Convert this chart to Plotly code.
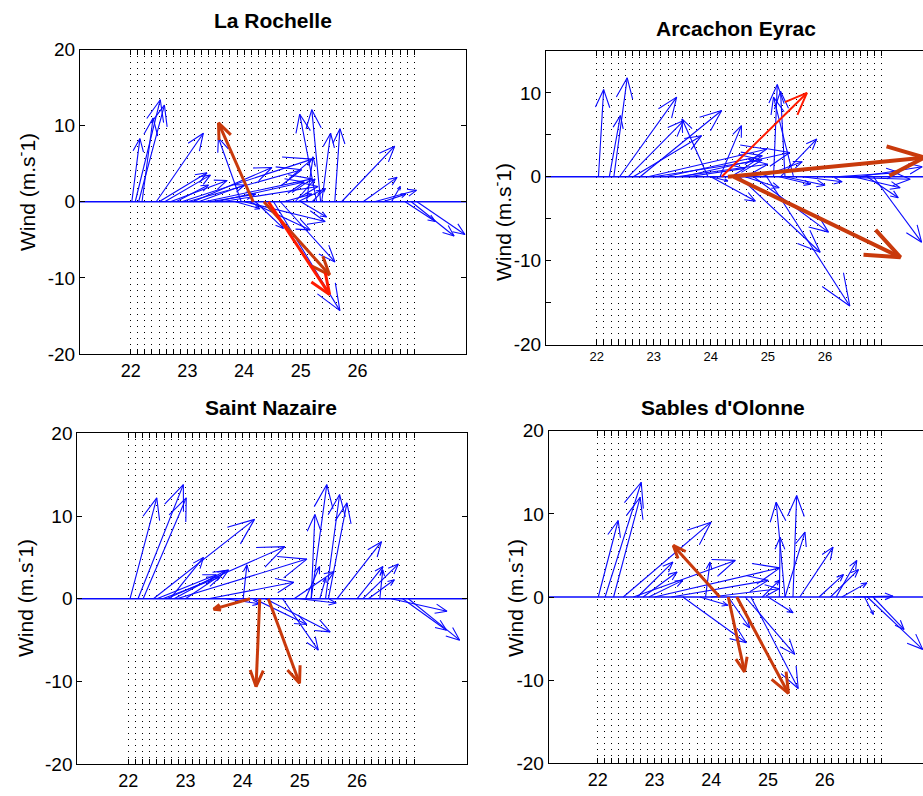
import math
import plotly.graph_objects as go

W, H = 923, 796
K = 0.13  # days per (m/s) used to draw the east component of each stick

# ---------------- data ----------------
# La Rochelle
lr_t = [22.02, 22.08, 22.14, 22.20, 22.45, 22.50, 22.60, 22.70, 22.80, 22.90, 23.10, 23.20, 23.30, 23.60,
        23.95, 23.40, 23.85, 24.00, 24.10, 24.20, 24.64, 24.52, 25.28, 25.35, 25.37, 25.60, 25.72, 25.10,
        24.95, 25.20, 24.70, 26.10, 26.30, 26.45, 26.84, 26.95, 27.05, 25.00, 26.60, 24.90, 23.00, 23.50]
lr_u = [1.1, 3.4, 3.5, 1.5, 6.4, 6.5, 6.2, 7.7, 4.4, 17.7, 10.7, 6.2, 14.6, 13.1,
        -3.1, 6.2, 3.3, 11.0, 8.2, 3.8, 7.4, 9.0, -2.3, -1.2, 1.2, 0.7, 7.2, 0.9,
        3.2, 1.8, 3.8, 4.6, 5.7, 3.1, 4.1, 5.8, 6.5, 3.5, 1.2, 2.7, 15.5, 12.0]
lr_v = [8.3, 13.4, 12.7, 11.0, 9.0, 3.8, 3.5, 2.8, 2.2, 5.6, 4.5, 2.2, 3.0, 2.0,
        8.4, 1.0, -0.9, -2.6, -3.7, -3.5, -7.9, -14.3, 11.5, 12.1, 9.0, 9.6, 7.3, 5.9,
        1.5, 1.75, 1.0, 3.2, 1.5, 1.0, -2.6, -4.5, -4.3, -2.0, 2.0, 3.0, 4.2, 2.6]
lr_red_t = [24.16, 24.35, 24.43]
lr_red_u = [-4.7, 8.9, 8.3]
lr_red_v = [10.36, -9.6, -12.2]

# Arcachon Eyrac
ae_t = [22.03, 22.30, 22.22, 22.40, 22.55, 23.95, 22.76, 22.64, 24.16, 22.90, 23.20, 23.50, 25.22, 25.10,
        25.30, 25.45, 24.75, 24.50, 24.98, 26.85, 26.74, 24.00, 24.00, 24.60, 25.30, 25.60, 26.00, 23.60,
        23.00, 23.40, 26.50, 26.20, 26.60, 24.90, 25.20]
ae_u = [0.7, 1.8, 1.5, 7.7, 7.5, -3.5, 11.0, 9.2, 2.9, 16.0, 13.1, 14.5, 4.9, 0.5,
        -0.6, -2.7, 10.1, 10.9, 11.2, 6.5, 4.2, 6.0, 2.3, 4.6, 5.4, 5.4, 11.5, 7.7,
        14.6, 12.3, 6.3, 8.5, 8.5, 5.4, 4.2]
ae_v = [10.4, 11.8, 7.3, 9.5, 6.7, 6.9, 7.9, 4.9, 6.1, 3.3, 2.5, 2.9, 4.5, 11.0,
        10.2, 9.5, -6.6, -9.0, -15.4, -7.8, -2.5, -2.9, -0.5, -1.3, -1.0, -0.6, -0.3, 1.0,
        2.0, 1.5, -1.3, 0.5, 1.2, 1.8, -0.9]
ae_red_t = [24.19, 24.30, 24.40]
ae_red_u = [11.5, 26.5, 22.5]
ae_red_v = [10.0, 2.3, -9.6]

# Saint Nazaire
sn_t = [22.03, 22.17, 22.26, 22.44, 22.67, 22.85, 22.73, 22.50, 22.60, 22.80, 23.00, 24.01, 25.20, 25.45,
        25.50, 25.20, 25.10, 25.65, 26.10, 26.20, 26.00, 26.60, 26.80, 26.90, 24.40, 24.70, 24.20, 25.00,
        24.90, 23.40, 23.70, 25.35, 26.40]
sn_u = [3.6, 6.1, 5.8, 13.6, 15.9, 17.5, 4.5, 8.0, 7.7, 6.9, 5.8, 0.5, 2.1, 1.9,
        2.5, 0.5, 1.9, 6.0, 4.8, 3.5, 3.5, 7.5, 5.9, 6.9, 8.7, 4.8, 7.1, 4.9,
        5.4, 11.5, 4.6, 0.8, 0.4]
sn_v = [12.2, 13.8, 12.2, 9.6, 6.3, 4.8, 5.0, 2.9, 2.6, 3.4, 3.5, 4.1, 13.8, 12.6,
        11.6, 10.2, 3.9, 6.9, 4.2, 2.3, 3.9, -1.5, -3.8, -5.0, -4.0, -6.2, -3.1, -0.5,
        3.3, 2.0, -0.6, 2.5, 3.5]
sn_red_t = [24.13, 24.30, 24.45]
sn_red_u = [-4.9, -0.5, 4.2]
sn_red_v = [-1.25, -10.6, -10.2]

# Sables d'Olonne
so_t = [22.01, 22.13, 22.28, 22.45, 22.63, 22.70, 22.80, 22.90, 23.90, 23.00, 23.30, 25.30, 25.44, 25.20,
        25.30, 25.56, 25.90, 26.10, 26.30, 26.20, 26.50, 26.75, 26.85, 26.70, 25.00, 24.60, 24.70, 24.30,
        23.50, 23.80, 24.90, 24.00]
so_u = [2.7, 4.9, 3.6, 11.9, 13.8, 4.8, 4.6, 4.6, 0.6, 17.0, 13.1, -1.2, 0.5, 0.1,
        2.7, 4.5, 3.3, 3.8, 3.4, 2.8, 5.4, 7.5, 4.2, 1.2, 3.4, 6.7, 6.4, 2.9,
        8.6, 3.8, 2.3, 9.2]
so_v = [9.2, 13.8, 12.0, 9.0, 4.4, 4.2, 3.0, 2.0, 4.2, 3.5, 2.0, 11.4, 12.2, 7.2,
        7.8, 6.0, 2.7, 3.3, 1.7, 4.4, 0.1, -6.3, -3.9, -2.1, -1.9, -6.9, -11.0, -3.7,
        -5.5, -1.0, 2.0, 1.0]
so_red_t = [24.15, 24.30, 24.45]
so_red_u = [-6.3, 2.2, 7.0]
so_red_v = [6.2, -9.0, -11.6]

titles = ["La Rochelle", "Arcachon Eyrac", "Saint Nazaire", "Sables d'Olonne"]
ylabel = "Wind (m.s<sup>-</sup>1)"
day_ticks = [22 + k * 0.125 for k in range(41)]
day_labels = [str(int(d)) if abs(d - round(d)) < 1e-9 and d < 26.5 else "" for d in day_ticks]

# ---------------- layout geometry (pixels) ----------------
panels = [
    dict(t=lr_t, u=lr_u, v=lr_v, rt=lr_red_t, ru=lr_red_u, rv=lr_red_v,
         rc=["#c93a0c", "#c93a0c", "#ff1a00"], rw=[3, 3, 3],
         box=(80, 466, 49.5, 354), xr=[21.106, 27.914], yr=[-20, 20],
         yt=[-20, -10, 0, 10, 20], ytt=["-20", "-10", "0", "10", "20"], xfs=18,
         title_xy=(273, 21), ylab_xy=(26, 192), right=True),
    dict(t=ae_t, u=ae_u, v=ae_v, rt=ae_red_t, ru=ae_red_u, rv=ae_red_v,
         rc=["#ff1a00", "#c93a0c", "#c93a0c"], rw=[2, 4, 4],
         box=(546, 923, 51, 344.5), xr=[21.11, 27.72], yr=[-20, 15],
         yt=[-20, -15, -10, -5, 0, 5, 10], ytt=["-20", "", "-10", "", "0", "", "10"], xfs=13,
         title_xy=(736, 28), ylab_xy=(502, 222), right=False),
    dict(t=sn_t, u=sn_u, v=sn_v, rt=sn_red_t, ru=sn_red_u, rv=sn_red_v,
         rc=["#c93a0c", "#c93a0c", "#c93a0c"], rw=[3, 3, 3],
         box=(77.3, 466.7, 433.3, 764.3), xr=[21.108, 27.92], yr=[-20, 20],
         yt=[-20, -10, 0, 10, 20], ytt=["-20", "-10", "0", "10", "20"], xfs=18,
         title_xy=(271, 407), ylab_xy=(24, 598), right=True),
    dict(t=so_t, u=so_u, v=so_v, rt=so_red_t, ru=so_red_u, rv=so_red_v,
         rc=["#c93a0c", "#c93a0c", "#c93a0c"], rw=[3, 3, 3],
         box=(548.7, 923, 430.7, 763.3), xr=[21.137, 27.73], yr=[-20, 20],
         yt=[-20, -10, 0, 10, 20], ytt=["-20", "-10", "0", "10", "20"], xfs=18,
         title_xy=(723, 407), ylab_xy=(514, 598), right=False),
]

FONT = "Liberation Sans, Arial, Helvetica, sans-serif"


def stick_paths(ts, us, vs, sx, sy, frac=0.22, ang=math.radians(22)):
    xs, ys = [], []
    for t, u, v in zip(ts, us, vs):
        x0, y0 = t, 0.0
        x1, y1 = t + u * K, v
        px, py = (x1 - x0) * sx, (y1 - y0) * sy
        L = math.hypot(px, py)
        if L == 0:
            continue
        ux, uy = -px / L, -py / L
        h = frac * L
        barbs = []
        for s in (1, -1):
            c, si = math.cos(s * ang), math.sin(s * ang)
            bx = (ux * c - uy * si) * h
            by = (ux * si + uy * c) * h
            barbs.append((x1 + bx / sx, y1 + by / sy))
        xs += [x0, x1, None, barbs[0][0], x1, barbs[1][0], None]
        ys += [y0, y1, None, barbs[0][1], y1, barbs[1][1], None]
    return xs, ys


fig = go.Figure()
annotations = []

for i, p in enumerate(panels, start=1):
    x0, x1, ytop, ybot = p["box"]
    sx = (x1 - x0) / (p["xr"][1] - p["xr"][0])
    sy = (ybot - ytop) / (p["yr"][1] - p["yr"][0])
    xa = "x" if i == 1 else f"x{i}"
    ya = "y" if i == 1 else f"y{i}"

    # baseline
    fig.add_trace(go.Scatter(x=p["xr"], y=[0, 0], mode="lines",
                             line=dict(color="#0a0aff", width=1.5),
                             xaxis=xa, yaxis=ya, hoverinfo="skip", showlegend=False))
    # blue sticks
    bx, by = stick_paths(p["t"], p["u"], p["v"], sx, sy)
    fig.add_trace(go.Scatter(x=bx, y=by, mode="lines",
                             line=dict(color="#0a0aff", width=1.1),
                             xaxis=xa, yaxis=ya, hoverinfo="skip", showlegend=False))
    # red sticks
    for j in range(len(p["rt"])):
        rx, ry = stick_paths([p["rt"][j]], [p["ru"][j]], [p["rv"][j]], sx, sy, frac=0.2)
        fig.add_trace(go.Scatter(x=rx, y=ry, mode="lines",
                                 line=dict(color=p["rc"][j], width=p["rw"][j]),
                                 xaxis=xa, yaxis=ya, hoverinfo="skip", showlegend=False))

    xkey = "xaxis" if i == 1 else f"xaxis{i}"
    ykey = "yaxis" if i == 1 else f"yaxis{i}"
    fig.layout[xkey] = dict(
        domain=[x0 / W, x1 / W], range=p["xr"], anchor=ya, automargin=False,
        tickmode="array", tickvals=day_ticks, ticktext=day_labels,
        ticks="inside", ticklen=5, tickwidth=1, tickcolor="black",
        showline=True, linecolor="black", linewidth=1, mirror="ticks",
        showgrid=True, gridcolor="black", gridwidth=1, griddash="1px,5px",
        zeroline=False, tickfont=dict(family=FONT, size=p["xfs"], color="black"),
        fixedrange=True)
    fig.layout[ykey] = dict(
        domain=[1 - ybot / H, 1 - ytop / H], range=p["yr"], anchor=xa, automargin=False,
        tickmode="array", tickvals=p["yt"], ticktext=p["ytt"],
        ticks="inside", ticklen=5, tickwidth=1, tickcolor="black",
        showline=True, linecolor="black", linewidth=1,
        mirror="ticks" if p["right"] else False,
        showgrid=False, zeroline=False,
        tickfont=dict(family=FONT, size=19, color="black"), fixedrange=True)

    tx, ty = p["title_xy"]
    annotations.append(dict(text="<b>" + titles[i - 1] + "</b>", x=tx / W, y=1 - ty / H,
                            xref="paper", yref="paper", showarrow=False,
                            xanchor="center", yanchor="middle",
                            font=dict(family=FONT, size=21, color="black")))
    lx, ly = p["ylab_xy"]
    annotations.append(dict(text=ylabel, x=lx / W, y=1 - ly / H, textangle=-90,
                            xref="paper", yref="paper", showarrow=False,
                            xanchor="center", yanchor="middle",
                            font=dict(family=FONT, size=21, color="black")))

fig.update_layout(width=W, height=H, autosize=False, margin=dict(l=0, r=0, t=0, b=0, pad=0),
                  paper_bgcolor="white", plot_bgcolor="white",
                  annotations=annotations, showlegend=False)

fig.write_html("out.html", config={"displayModeBar": False, "responsive": False},
               post_script="document.body.style.margin='0';document.body.style.overflow='hidden';")
